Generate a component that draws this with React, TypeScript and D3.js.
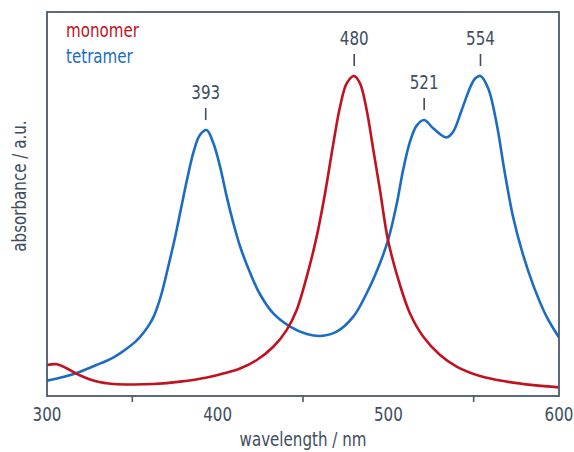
import React from "react";
import * as d3 from "d3";

// Absorption spectra (arbitrary units, normalised to the strongest band)
const monomerWavelength = [300, 305.9, 311.7, 319.5, 329.3, 339, 350.8, 362.5, 378, 393.8, 403, 413.1, 422.9, 432.6, 440.4, 446.3, 452.2, 458, 462.9, 467.8, 471.7, 475.6, 479.9, 483.4, 487.3, 491.2, 495.1, 499.8, 506.8, 512.7, 520.5, 530.3, 540, 553.7, 569.3, 585, 600];
const monomerAbsorbance = [0.097, 0.099, 0.086, 0.064, 0.045, 0.0375, 0.036, 0.0375, 0.045, 0.058, 0.07, 0.086, 0.1125, 0.154, 0.206, 0.269, 0.373, 0.498, 0.633, 0.79, 0.904, 0.977, 1.0, 0.977, 0.894, 0.769, 0.644, 0.4875, 0.347, 0.258, 0.185, 0.128, 0.092, 0.0625, 0.045, 0.034, 0.027];

const tetramerWavelength = [300, 310, 319.5, 329, 334, 339, 343, 347, 351, 354, 357, 360, 362.5, 365, 367.4, 371.3, 375.2, 378.5, 382, 386, 389.5, 393.5, 397.5, 401.4, 405.3, 409.2, 413.1, 419, 424.8, 432.6, 442.4, 452.2, 460, 469.7, 479.5, 487.3, 495.1, 500, 504.9, 508.8, 512.7, 516.6, 520.9, 526.4, 534, 538, 543, 548, 551, 554, 558.6, 563.5, 568, 573, 579, 585, 592.8, 600];
const tetramerAbsorbance = [0.048, 0.06, 0.076, 0.097, 0.108, 0.121, 0.134, 0.149, 0.166, 0.182, 0.201, 0.224, 0.248, 0.283, 0.325, 0.41, 0.5, 0.585, 0.675, 0.765, 0.815, 0.831, 0.79, 0.717, 0.623, 0.54, 0.468, 0.385, 0.318, 0.258, 0.217, 0.194, 0.1875, 0.201, 0.248, 0.321, 0.415, 0.49, 0.6, 0.71, 0.795, 0.845, 0.8625, 0.836, 0.808, 0.826, 0.894, 0.965, 0.993, 1.0, 0.96, 0.85, 0.705, 0.562, 0.44, 0.345, 0.247, 0.183];

// Labelled band maxima
const peakWavelength = [393, 480, 521, 554];
const peakAbsorbance = [0.831, 1.0, 0.8625, 1.0];

const majorTicks = [300, 400, 500, 600];
const minorTicks = [350, 450, 550];

const seriesNames = ["monomer", "tetramer"];

const RED = "#c0121f";
const BLUE = "#1c6cc3";
const INK = "#3e4d60";
const FRAME = "#4a596b";
const FONT = "'DejaVu Sans Condensed', 'DejaVu Sans', sans-serif";
const SQUEEZE = 0.84;

type TxtProps = {
  x: number;
  y: number;
  rotate?: number;
  anchor?: "start" | "middle" | "end";
  fill?: string;
  children: React.ReactNode;
};

// Narrow label text: horizontally compressed DejaVu Sans Condensed
function Txt({ x, y, rotate = 0, anchor = "middle", fill = INK, children }: TxtProps) {
  return (
    <text
      transform={`translate(${x},${y}) rotate(${rotate}) scale(${SQUEEZE},1)`}
      textAnchor={anchor}
      fontSize={20}
      fill={fill}
    >
      {children}
    </text>
  );
}

export default function App() {
  const width = 574;
  const height = 452;
  const left = 47, right = 559, top = 12, bottom = 396;

  const x = d3.scaleLinear().domain([300, 600]).range([left, right]);
  const y = d3.scaleLinear().domain([0, 1.2]).range([bottom, top]);

  const line = d3
    .line<[number, number]>()
    .x((d) => x(d[0]))
    .y((d) => y(d[1]))
    .curve(d3.curveCatmullRom.alpha(0.5));

  const monomer = monomerWavelength.map((w, i) => [w, monomerAbsorbance[i]] as [number, number]);
  const tetramer = tetramerWavelength.map((w, i) => [w, tetramerAbsorbance[i]] as [number, number]);

  return (
    <svg width={width} height={height} style={{ position: "absolute", left: 0, top: 0 }} fontFamily={FONT}>
      <rect x={0} y={0} width={width} height={height} fill="#fff" />
      <defs>
        <clipPath id="plot">
          <rect x={left} y={top} width={right - left} height={bottom - top} />
        </clipPath>
      </defs>
      <g clipPath="url(#plot)" fill="none" strokeWidth={2.6} strokeLinejoin="round">
        <path d={line(tetramer) ?? ""} stroke={BLUE} />
        <path d={line(monomer) ?? ""} stroke={RED} />
      </g>
      <rect x={left} y={top} width={right - left} height={bottom - top} fill="none" stroke={FRAME} strokeWidth={1.8} />
      {minorTicks.map((t) => (
        <line key={t} x1={x(t)} x2={x(t)} y1={bottom} y2={bottom + 6} stroke={FRAME} strokeWidth={1.6} />
      ))}
      {majorTicks.map((t) => (
        <Txt key={t} x={x(t)} y={421}>
          {t}
        </Txt>
      ))}
      <Txt x={(left + right) / 2} y={446}>
        wavelength / nm
      </Txt>
      <Txt x={26} y={186} rotate={-90}>
        absorbance / a.u.
      </Txt>
      {peakWavelength.map((w, i) => {
        const py = y(peakAbsorbance[i]);
        return (
          <g key={w}>
            <line x1={x(w)} x2={x(w)} y1={py - 22} y2={py - 10} stroke={INK} strokeWidth={1.6} />
            <Txt x={x(w)} y={py - 31}>
              {w}
            </Txt>
          </g>
        );
      })}
      <Txt x={66} y={37} anchor="start" fill={RED}>
        {seriesNames[0]}
      </Txt>
      <Txt x={66} y={63} anchor="start" fill={BLUE}>
        {seriesNames[1]}
      </Txt>
    </svg>
  );
}
